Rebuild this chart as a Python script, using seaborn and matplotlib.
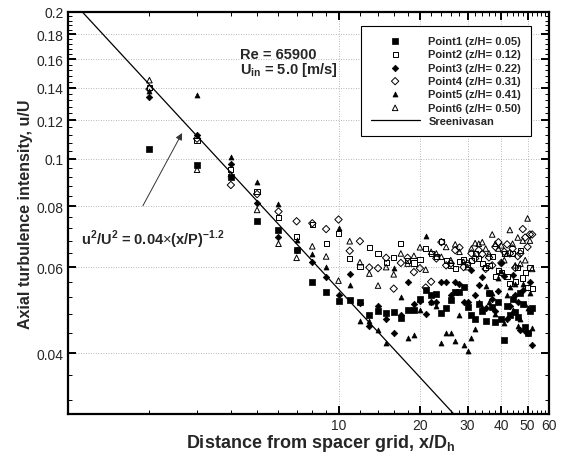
import numpy as np
import pandas as pd
import matplotlib
matplotlib.use("Agg")
import matplotlib.pyplot as plt
import seaborn as sns
from matplotlib.ticker import FixedLocator, FixedFormatter, NullFormatter

# ---------------- data ----------------
x_pos = list(range(2, 53))  # x/Dh stations

p1 = [0.105, 0.097, 0.092, 0.0745, 0.0716, 0.065, 0.056, 0.0533, 0.0511, 0.0514,
      0.0508, 0.0478, 0.0488, 0.0483, 0.0486, 0.0473, 0.0491, 0.0491, 0.0517, 0.0538,
      0.0525, 0.0528, 0.0484, 0.0494, 0.0513, 0.0533, 0.0533, 0.0545, 0.0497, 0.0478,
      0.0470, 0.0503, 0.0487, 0.0465, 0.0530, 0.0497, 0.0464, 0.0509, 0.0470, 0.0425,
      0.0500, 0.0478, 0.0515, 0.0486, 0.0475, 0.0530, 0.0505, 0.0453, 0.0440, 0.0488,
      0.0495]
p2 = [0.140, 0.109, 0.095, 0.0858, 0.0758, 0.0694, 0.0735, 0.0672, 0.0702, 0.0624,
      0.0602, 0.0658, 0.0640, 0.0614, 0.0627, 0.0670, 0.0618, 0.0612, 0.0621, 0.0655,
      0.0640, 0.0630, 0.0678, 0.0620, 0.0605, 0.0595, 0.0615, 0.0622, 0.0608, 0.0618,
      0.0640, 0.0625, 0.0610, 0.0598, 0.0605, 0.0632, 0.0575, 0.0590, 0.0585, 0.0640,
      0.0575, 0.0555, 0.0640, 0.0560, 0.0600, 0.0648, 0.0570, 0.0585, 0.0545, 0.0600,
      0.0542]
p3 = [0.134, 0.112, 0.0976, 0.0812, 0.0693, 0.0649, 0.0615, 0.0572, 0.0526, 0.0582,
      0.0507, 0.0455, 0.0500, 0.0470, 0.0440, 0.0478, 0.0560, 0.0505, 0.0512, 0.0480,
      0.0508, 0.0510, 0.0560, 0.0560, 0.0525, 0.0560, 0.0555, 0.0508, 0.0510, 0.0592,
      0.0525, 0.0552, 0.0573, 0.0495, 0.0530, 0.0515, 0.0488, 0.0535, 0.0612, 0.0575,
      0.0470, 0.0500, 0.0578, 0.0525, 0.0510, 0.0445, 0.0538, 0.0443, 0.0440, 0.0560,
      0.0415]
p4 = [0.139, 0.110, 0.0884, 0.0847, 0.078, 0.0745, 0.0738, 0.0718, 0.0751, 0.0648,
      0.0678, 0.0599, 0.0597, 0.0627, 0.0542, 0.0612, 0.0627, 0.0586, 0.0597, 0.0545,
      0.0560, 0.0625, 0.0675, 0.0605, 0.0610, 0.0650, 0.0658, 0.0600, 0.0610, 0.0640,
      0.0625, 0.0650, 0.0638, 0.0595, 0.0628, 0.0605, 0.0660, 0.0675, 0.0612, 0.0645,
      0.0668, 0.0640, 0.0655, 0.0598, 0.0632, 0.0640, 0.0718, 0.0690, 0.0660, 0.0700,
      0.0700]
p5 = [0.138, 0.135, 0.101, 0.0895, 0.0809, 0.0683, 0.0638, 0.0601, 0.0721, 0.0552,
      0.0466, 0.0466, 0.0445, 0.0420, 0.0597, 0.0520, 0.0430, 0.0435, 0.0490, 0.0696,
      0.0510, 0.0500, 0.0419, 0.0440, 0.0440, 0.0423, 0.0478, 0.0415, 0.0404, 0.0430,
      0.0448, 0.0510, 0.0497, 0.0550, 0.0510, 0.0530, 0.0482, 0.0570, 0.0590, 0.0460,
      0.0525, 0.0545, 0.0490, 0.0555, 0.0455, 0.0470, 0.0555, 0.0505, 0.0495, 0.0530,
      0.0450]
p6 = [0.145, 0.095, 0.093, 0.0786, 0.067, 0.0627, 0.0662, 0.0631, 0.0563, 0.0678,
      0.0614, 0.0582, 0.0550, 0.0600, 0.0580, 0.0640, 0.0610, 0.0633, 0.0659, 0.0593,
      0.0645, 0.0640, 0.0630, 0.0660, 0.0620, 0.0668, 0.0645, 0.0615, 0.0600, 0.0655,
      0.0672, 0.0670, 0.0675, 0.0655, 0.0640, 0.0700, 0.0670, 0.0655, 0.0665, 0.0620,
      0.0640, 0.0715, 0.0670, 0.0605, 0.0690, 0.0610, 0.0680, 0.0620, 0.0755, 0.0680,
      0.0595]

series_labels = ["Point1 (z/H= 0.05)", "Point2 (z/H= 0.12)", "Point3 (z/H= 0.22)",
                 "Point4 (z/H= 0.31)", "Point5 (z/H= 0.41)", "Point6 (z/H= 0.50)"]
line_label = "Sreenivasan"

# Sreenivasan correlation: u^2/U^2 = 0.04 (x/P)^-1.2
corr_coef = 0.04
corr_exp = -1.2
P_ratio = 1.13
line_x = [1.0, 60.0]

x_major = [10, 20, 30, 40, 50, 60]
x_minor = list(range(2, 10)) + list(range(12, 60, 2))
y_major = [0.04, 0.06, 0.08, 0.1, 0.12, 0.14, 0.16, 0.18, 0.2]
y_major_labels = ["0.04", "0.06", "0.08", "0.1", "0.12", "0.14", "0.16", "0.18", "0.2"]
y_minor = [round(0.032 + 0.004 * i, 3) for i in range(42)]

# ---------------- styling ----------------
sns.set_theme(style="white")
plt.rcParams['font.family'] = ['Liberation Sans', 'DejaVu Sans']
plt.rcParams['mathtext.fontset'] = 'custom'
plt.rcParams['mathtext.rm'] = 'Liberation Sans'
plt.rcParams['mathtext.bf'] = 'Liberation Sans:bold'

fig = plt.figure(figsize=(5.63, 4.64), dpi=100)
ax = fig.add_axes([68 / 563, 1 - 415 / 464, (549 - 68) / 563, (415 - 13) / 464])
ax.set_xscale("log")
ax.set_yscale("log")

# correlation line
lx = np.geomspace(line_x[0], line_x[1], 200)
ly = np.sqrt(corr_coef * (lx / P_ratio) ** corr_exp)
line_df = pd.DataFrame({"x": lx, "y": ly})
sns.lineplot(data=line_df, x="x", y="y", ax=ax, color="black", lw=0.9,
             label=line_label, zorder=3)

styles = [("s", True, 13), ("s", False, 14), ("D", True, 11),
          ("D", False, 14), ("^", True, 13), ("^", False, 16)]
for vals, lab, (mk, filled, sz) in zip([p1, p2, p3, p4, p5, p6], series_labels, styles):
    df = pd.DataFrame({"x": x_pos, "y": vals})
    if filled:
        sns.scatterplot(data=df, x="x", y="y", ax=ax, marker=mk, s=sz,
                        color="black", edgecolor="black", linewidth=0.5,
                        label=lab, zorder=4)
    else:
        sns.scatterplot(data=df, x="x", y="y", ax=ax, marker=mk, s=sz,
                        color="black", facecolor="none", edgecolor="black",
                        linewidth=0.7, label=lab, zorder=4)

ax.set_xlim(1, 60)
ax.set_ylim(0.03, 0.2)

ax.xaxis.set_major_locator(FixedLocator(x_major))
ax.xaxis.set_major_formatter(FixedFormatter([str(v) for v in x_major]))
ax.xaxis.set_minor_locator(FixedLocator(x_minor))
ax.xaxis.set_minor_formatter(NullFormatter())
ax.yaxis.set_major_locator(FixedLocator(y_major))
ax.yaxis.set_major_formatter(FixedFormatter(y_major_labels))
ax.yaxis.set_minor_locator(FixedLocator(y_minor))
ax.yaxis.set_minor_formatter(NullFormatter())

ax.tick_params(which="both", direction="in", top=True, right=True,
               bottom=True, left=True, color="black")
ax.tick_params(which="major", length=6, width=1.4, labelsize=10, pad=3)
ax.tick_params(which="minor", length=3, width=0.7)

ax.grid(True, which="major", linestyle=(0, (1, 2)), color="#a0a0a0", lw=0.6)
for s in ax.spines.values():
    s.set_linewidth(1.6)
    s.set_color("black")

ax.set_xlabel("Distance from spacer grid, x/D$_\\mathregular{h}$", fontsize=13,
              fontweight="bold")
ax.set_ylabel("Axial turbulence intensity, u/U", fontsize=11.5, fontweight="bold")
ax.xaxis.set_label_coords(0.525, -0.045)
ax.yaxis.set_label_coords(-0.072, 0.5)

# legend
handles, labels = ax.get_legend_handles_labels()
order = [labels.index(l) for l in series_labels] + [labels.index(line_label)]
leg = ax.legend([handles[i] for i in order], [labels[i] for i in order],
                loc="upper right", bbox_to_anchor=(0.963, 0.965), borderaxespad=0,
                frameon=True, fancybox=False, edgecolor="black", framealpha=1,
                prop={"weight": "bold", "size": 8}, handlelength=4.4,
                handletextpad=0.8, labelspacing=0.3, borderpad=0.9)
leg.get_frame().set_linewidth(0.8)

# annotations
ax.text(0.357, 0.895, "Re = 65900", transform=ax.transAxes, fontsize=10.5,
        fontweight="bold", va="center", ha="left")
ax.text(0.357, 0.857, "U$_\\mathregular{in}$ = 5.0 [m/s]", transform=ax.transAxes,
        fontsize=10.5, fontweight="bold", va="center", ha="left")
ax.text(0.028, 0.435, "u$^\\mathregular{2}$/U$^\\mathregular{2}$ = 0.04$\\times$(x/P)$^\\mathregular{-1.2}$",
        transform=ax.transAxes, fontsize=10.5, fontweight="bold", va="center", ha="left")
ax.annotate("", xy=(0.240, 0.705), xytext=(0.153, 0.512), xycoords="axes fraction",
            textcoords="axes fraction",
            arrowprops=dict(arrowstyle="-|>", color="#333333", lw=0.7,
                            mutation_scale=10))

fig.savefig("out.png", dpi=100)
